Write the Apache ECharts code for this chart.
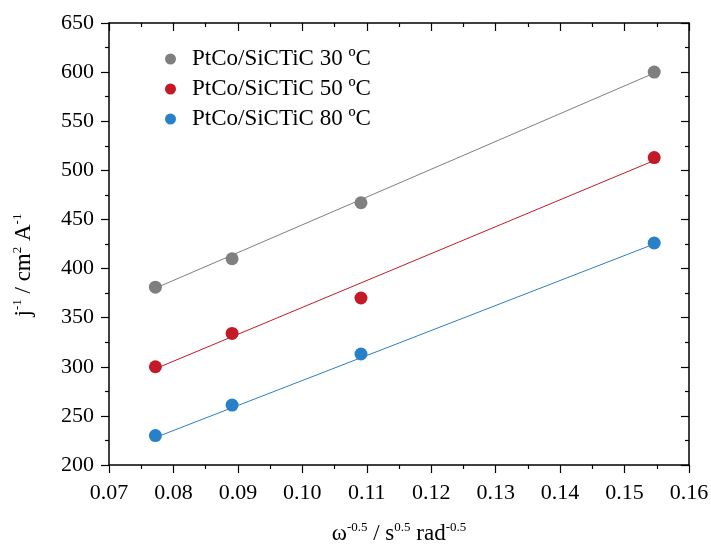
<!DOCTYPE html>
<html><head><meta charset="utf-8">
<script src="https://cdn.jsdelivr.net/npm/echarts@6/dist/echarts.min.js"></script>
<style>html,body{margin:0;padding:0;background:#fff}#c{width:711px;height:545px}</style>
</head><body><div id="c"></div>
<script>
const seriesNames = ['PtCo/SiCTiC 30 ºC', 'PtCo/SiCTiC 50 ºC', 'PtCo/SiCTiC 80 ºC'];
const colors = ['#7f7f7f', '#c41a27', '#2a80c8'];
const xValues = [0.0772, 0.0891, 0.1091, 0.1546];
const y30 = [381, 410, 467, 600];
const y50 = [300, 334, 370, 513];
const y80 = [230, 261, 313, 426];
const fitX = [0.0772, 0.1546];
const fit30 = [380, 599];
const fit50 = [298, 510];
const fit80 = [228, 425];

const FONT = 'Liberation Serif';
const pts = ys => xValues.map((x, i) => [x, ys[i]]);
const fit = ys => fitX.map((x, i) => [x, ys[i]]);
const allY = [y30, y50, y80];
const allFit = [fit30, fit50, fit80];

const series = [];
allFit.forEach((f, i) => series.push({
  type: 'line', data: fit(f), showSymbol: false, symbol: 'none',
  lineStyle: {color: colors[i], width: 1}, silent: true, z: 2
}));
allY.forEach((ys, i) => series.push({
  name: seriesNames[i], type: 'scatter', data: pts(ys), symbol: 'circle', symbolSize: 13,
  itemStyle: {color: colors[i], opacity: 1}, z: 3
}));

function axis(inside, showLabel) {
  return {
    axisLine: {show: true, lineStyle: {color: '#000', width: 1.5}},
    axisTick: {show: true, inside: inside, length: 8, lineStyle: {color: '#000', width: 1.2}},
    minorTick: {show: true, splitNumber: 2, length: 4, lineStyle: {color: '#000', width: 1.2}},
    splitLine: {show: false},
    axisLabel: {show: showLabel}
  };
}
const sup = {fontSize: 13, fontFamily: FONT, color: '#000', verticalAlign: 'top', lineHeight: 26};
const base = {fontSize: 23, fontFamily: FONT, color: '#000', lineHeight: 26};
const lbl = {fontFamily: FONT, fontSize: 22, color: '#000'};

const chart = echarts.init(document.getElementById('c'));
chart.setOption({
  animation: false,
  backgroundColor: '#fff',
  color: colors,
  grid: {left: 109, right: 22, top: 23, bottom: 80, containLabel: false, outerBoundsMode: 'none'},
  legend: {
    show: true, data: seriesNames, orient: 'vertical', left: 160, top: 42,
    icon: 'circle', itemWidth: 11, itemHeight: 11, itemGap: 6,
    textStyle: {fontFamily: FONT, fontSize: 23, lineHeight: 24, color: '#000', padding: [0, 0, 0, 11]}
  },
  xAxis: [
    Object.assign(axis(false, true), {
      type: 'value', min: 0.07, max: 0.16, interval: 0.01, position: 'bottom',
      axisLabel: Object.assign({}, lbl, {margin: 17, formatter: v => v.toFixed(2)}),
      name: '{b|ω}{s|-0.5}{b| / s}{s|0.5}{b| rad}{s|-0.5}',
      nameLocation: 'middle', nameGap: 56,
      nameTextStyle: {rich: {b: base, s: sup}}
    }),
    Object.assign(axis(true, false), {
      type: 'value', min: 0.07, max: 0.16, interval: 0.01, position: 'top'
    })
  ],
  yAxis: [
    Object.assign(axis(false, true), {
      type: 'value', min: 200, max: 650, interval: 50, position: 'left',
      axisLabel: Object.assign({}, lbl, {margin: 15}),
      name: '{b|j}{s|-1}{b| / cm}{s|2}{b| A}{s|-1}',
      nameLocation: 'middle', nameGap: 72,
      nameTextStyle: {rich: {b: base, s: sup}, padding: [0, 42, 0, 0]}
    }),
    Object.assign(axis(true, false), {
      type: 'value', min: 200, max: 650, interval: 50, position: 'right'
    })
  ],
  series: series
});
</script></body></html>
